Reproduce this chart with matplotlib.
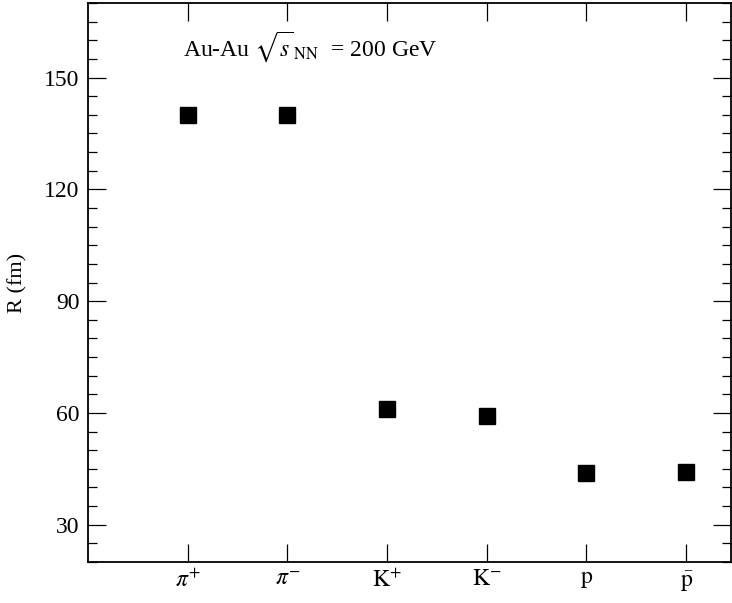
#!/usr/bin/env python3
"""Source radius R for identified particles, Au-Au at 200 GeV."""

import matplotlib
matplotlib.use("Agg")
import matplotlib.pyplot as plt
from matplotlib.ticker import MultipleLocator

plt.rcParams["font.family"] = ["Liberation Serif", "DejaVu Serif"]
plt.rcParams["mathtext.fontset"] = "stix"

PARTICLES = [r"$\pi^{+}$", r"$\pi^{-}$", r"$\mathrm{K}^{+}$", r"$\mathrm{K}^{-}$",
             r"$\mathrm{p}$", r"$\bar{\mathrm{p}}$"]
POSITIONS = [1, 2, 3, 4, 5, 6]
RADIUS_FM = [140.0, 140.0, 61.1, 59.3, 43.9, 44.2]


def style_axis(ax) -> None:
    for side in ax.spines.values():
        side.set_linewidth(1.3)
    ax.tick_params(which="both", direction="in", top=True, right=True,
                   labelsize=17, width=0.9)
    ax.tick_params(axis="y", pad=6)
    ax.tick_params(axis="x", pad=5)
    ax.tick_params(which="major", length=13)
    ax.tick_params(which="minor", length=6.5)
    ax.tick_params(axis="x", which="minor", bottom=False, top=False)


def main() -> None:
    fig = plt.figure(figsize=(7.32, 6.03), dpi=100)
    ax = fig.add_axes([0.1202, 0.068, 0.8785, 0.927])

    ax.plot(POSITIONS, RADIUS_FM, linestyle="none", marker="s",
            markersize=12, color="black")

    ax.set_xlim(0, 6.45)
    ax.set_ylim(20, 170)
    ax.set_xticks(POSITIONS, PARTICLES)
    ax.yaxis.set_major_locator(MultipleLocator(30))
    ax.yaxis.set_minor_locator(MultipleLocator(5))
    ax.set_ylabel("R (fm)", fontsize=16, labelpad=12)

    ax.text(0.95, 158.2, r"Au-Au $\sqrt{s}_{\,\mathrm{NN}}$  = 200 GeV",
            fontsize=17, va="center", ha="left")

    style_axis(ax)
    fig.savefig("out.png", dpi=100)
    plt.close(fig)


if __name__ == "__main__":
    main()
